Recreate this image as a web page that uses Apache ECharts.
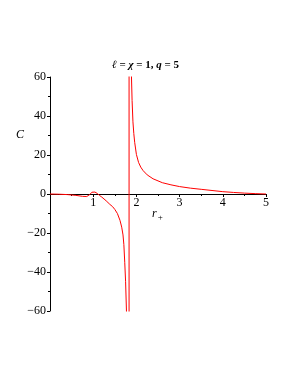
<!DOCTYPE html>
<html><head><meta charset="utf-8">
<script src="https://cdn.jsdelivr.net/npm/echarts@6/dist/echarts.min.js"></script>
<style>html,body{margin:0;padding:0;background:#fff}#c{width:291px;height:376px}</style>
</head><body><div id="c"></div>
<script>
const rValues = [0, 0.2, 0.4, 0.6, 0.75, 0.85, 0.92, 0.97, 1.0, 1.04, 1.1, 1.15, 1.2, 1.3, 1.385, 1.45, 1.5, 1.56, 1.62, 1.66, 1.69, 1.71, 1.73, 1.75, 1.77, 1.79, 1.81, 1.83,
                 1.831, 1.85, 1.87, 1.886, 1.9, 1.92, 1.94, 1.96, 2.0, 2.05, 2.1, 2.155, 2.25, 2.385, 2.6, 2.8, 3.0, 3.25, 3.5, 3.75, 4.0, 4.25, 4.5, 4.75, 5.0];
const cValues = [0, -0.1, -0.3, -0.7, -1.2, -1.3, -0.3, 0.9, 1.2, 1.0, 0.2, -0.8, -1.6, -3.5, -5.3, -6.5, -7.9, -10, -13.5, -17, -21, -26, -35, -45, -60, -90, -180, -100000,
                 100000, 170, 85, 60, 48, 37, 31, 26.5, 20.3, 16.2, 13.8, 12, 9.8, 7.8, 5.8, 4.7, 3.8, 3.0, 2.4, 1.8, 1.2, 0.8, 0.45, 0.2, 0];
const xTicks = [1, 2, 3, 4, 5];
const yTicks = [-60, -40, -20, 0, 20, 40, 60];

const font = 'Liberation Serif';
const chart = echarts.init(document.getElementById('c'));
chart.setOption({
  animation: false,
  grid: {left: 50, right: 25, top: 77, bottom: 65},
  xAxis: {
    type: 'value', min: 0, max: 5, interval: 1, offset: -117,
    axisLine: {onZero: false, lineStyle: {color: '#000', width: 1}},
    axisTick: {show: true, length: 3, lineStyle: {color: '#000'}},
    minorTick: {show: true, splitNumber: 2, length: 2, lineStyle: {color: '#000'}},
    splitLine: {show: false},
    axisLabel: {color: '#000', fontFamily: font, fontSize: 12, margin: 3,
      formatter: v => xTicks.includes(v) ? String(v) : ''}
  },
  yAxis: {
    type: 'value', min: -60, max: 60, interval: 20,
    axisLine: {show: true, onZero: false, lineStyle: {color: '#000', width: 1}},
    axisTick: {show: true, length: 3, lineStyle: {color: '#000'}},
    minorTick: {show: true, splitNumber: 2, length: 2, lineStyle: {color: '#000'}},
    splitLine: {show: false},
    axisLabel: {color: '#000', fontFamily: font, fontSize: 12, margin: 4,
      formatter: v => yTicks.includes(v) ? String(v).replace('-', '\u2212') : ''}
  },
  graphic: [
    {type: 'text', left: 'center', top: 60, style: {
      text: '{i|ℓ}{n| = }{i|χ}{n| = 1, }{i|q}{n| = 5}', fill: '#000',
      rich: {
        i: {fontFamily: font, fontStyle: 'italic', fontWeight: 'bold', fontSize: 11},
        n: {fontFamily: font, fontWeight: 'bold', fontSize: 11}
      }}, x: 13},
    {type: 'text', left: 16, top: 129, style: {text: 'C', font: 'italic 12px "Liberation Serif"', fill: '#000'}},
    {type: 'text', left: 152, top: 208, style: {text: '{r|r}{s|+}', fill: '#000',
      rich: {r: {fontFamily: font, fontStyle: 'italic', fontSize: 12}, s: {fontFamily: font, fontSize: 9, padding: [8, 0, 0, 1]}}}}
  ],
  series: [{
    type: 'line', showSymbol: false, clip: true, smooth: false,
    lineStyle: {color: '#ff0000', width: 1},
    data: rValues.map((r, i) => [r, cValues[i]])
  }]
});
</script></body></html>
